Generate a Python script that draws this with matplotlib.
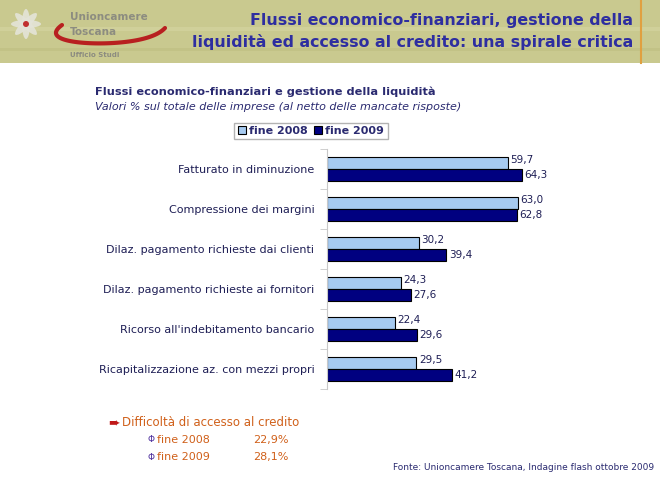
import matplotlib
matplotlib.use("Agg")
import matplotlib.pyplot as plt
from matplotlib.patches import Rectangle, Ellipse
import numpy as np

# data
categories = ["Fatturato in diminuzione",
              "Compressione dei margini",
              "Dilaz. pagamento richieste dai clienti",
              "Dilaz. pagamento richieste ai fornitori",
              "Ricorso all'indebitamento bancario",
              "Ricapitalizzazione az. con mezzi propri"]
fine_2008 = [59.7, 63.0, 30.2, 24.3, 22.4, 29.5]
fine_2009 = [64.3, 62.8, 39.4, 27.6, 29.6, 41.2]
series_names = ["fine 2008", "fine 2009"]
credito_labels = ["fine 2008", "fine 2009"]
credito_values = ["22,9%", "28,1%"]

light = "#a6caf0"
dark = "#000080"
navy_txt = "#1e1e55"

W, H = 660, 480
fig = plt.figure(figsize=(W / 100, H / 100), dpi=100)
fig.patch.set_facecolor("white")

# overlay in pixel coordinates for header / decorations
bg = fig.add_axes([0, 0, 1, 1], zorder=0)
bg.set_xlim(0, W)
bg.set_ylim(H, 0)
bg.axis("off")

bg.add_patch(Rectangle((0, 0), W, 63, facecolor="#c9c98f", edgecolor="none"))
bg.add_patch(Rectangle((0, 27), W, 4, facecolor="#d0d09a", edgecolor="none"))
bg.add_patch(Rectangle((0, 48), W, 3, facecolor="#c2c286", edgecolor="none"))
bg.plot([641, 641], [0, 63], color="#e0a040", lw=1.5)

# logo
for ang in range(0, 180, 45):
    bg.add_patch(Ellipse((26, 24), 30, 8, angle=ang, facecolor="#e4e4d8",
                         edgecolor="none", alpha=0.9))
bg.add_patch(Ellipse((26, 24), 6, 6, facecolor="#c03030", edgecolor="none"))

def bezier(pts, n=80):
    pts = np.array(pts, dtype=float)
    t = np.linspace(0, 1, n)[:, None]
    while len(pts) > 1:
        pts = np.array([(1 - t) * pts[i] + t * pts[i + 1] for i in range(len(pts) - 1)])
    return pts[0]

curve = bezier([(62, 25), (44, 38), (60, 46), (110, 46), (150, 44), (165, 28)])
bg.plot(curve[:, 0], curve[:, 1], color="#b82020", lw=3, solid_capstyle="round")
bg.text(70, 17, "Unioncamere", fontsize=7.5, fontweight="bold", color="#8c8c80",
        va="center", ha="left")
bg.text(70, 32, "Toscana", fontsize=7.5, fontweight="bold", color="#8c8c80",
        va="center", ha="left")
bg.text(70, 55, "Ufficio Studi", fontsize=5, fontweight="bold", color="#8c8c80",
        va="center", ha="left")

# header title
bg.text(633, 20, "Flussi economico-finanziari, gestione della", fontsize=11.4,
        fontweight="bold", color="#2e2ea0", ha="right", va="center")
bg.text(633, 42, "liquidità ed accesso al credito: una spirale critica", fontsize=11.4,
        fontweight="bold", color="#2e2ea0", ha="right", va="center")

# chart titles
bg.text(95, 92, "Flussi economico-finanziari e gestione della liquidità", fontsize=8.2,
        fontweight="bold", color="#2a2a70", ha="left", va="center")
bg.text(95, 107, "Valori % sul totale delle imprese (al netto delle mancate risposte)",
        fontsize=8, style="italic", color="#2a2a70", ha="left", va="center")

# bar chart
ax = fig.add_axes([327 / W, 1 - 389 / H, 303 / W, (389 - 148.5) / H], zorder=1)
ax.patch.set_alpha(0)
y = np.arange(len(categories))
h = 0.3
ax.barh(y - h / 2, fine_2008, height=h, color=light, edgecolor="black", lw=0.8,
        label=series_names[0])
ax.barh(y + h / 2, fine_2009, height=h, color=dark, edgecolor="black", lw=0.8,
        label=series_names[1])
for i, (a, b) in enumerate(zip(fine_2008, fine_2009)):
    ax.text(a + 0.8, i - h / 2 - 0.07, f"{a:.1f}".replace(".", ","), fontsize=7.5,
            color=navy_txt, va="center", ha="left")
    ax.text(b + 0.8, i + h / 2, f"{b:.1f}".replace(".", ","), fontsize=7.5,
            color=navy_txt, va="center", ha="left")

ax.set_xlim(0, 100)
ax.set_ylim(len(categories) - 0.5, -0.5)
for s in ["top", "right", "bottom"]:
    ax.spines[s].set_visible(False)
ax.spines["left"].set_color("#c8c8c8")
ax.set_xticks([])
ax.set_yticks(y)
ax.set_yticklabels(categories, fontsize=8, color=navy_txt)
ax.tick_params(axis="y", which="major", length=0, pad=9)
ax.set_yticks(np.arange(-0.5, len(categories)), minor=True)
ax.tick_params(axis="y", which="minor", length=5, color="#c8c8c8")

leg = fig.legend(loc="center", bbox_to_anchor=(311 / W, 1 - 131 / H), ncol=2,
                 frameon=True, fancybox=False, edgecolor="#a0a0a0",
                 prop={"weight": "bold", "size": 8}, handlelength=0.7,
                 handleheight=0.7, handletextpad=0.3, columnspacing=0.6,
                 borderpad=0.3)
for txt in leg.get_texts():
    txt.set_color("#2a2a70")

# credit access notes
bg.text(108, 423, "➨", fontsize=10, color="#c01818", ha="left", va="center")
bg.text(122, 423, "Difficoltà di accesso al credito", fontsize=8.5, color="#d0601a",
        ha="left", va="center")
for k, (lab, val) in enumerate(zip(credito_labels, credito_values)):
    yy = 440 + 17 * k
    bg.text(147, yy, "Φ", fontsize=6.5, color="#4b2c9c", ha="left", va="center")
    bg.text(157, yy, lab, fontsize=8, color="#d0601a", ha="left", va="center")
    bg.text(253, yy, val, fontsize=8, color="#d0601a", ha="left", va="center")

bg.text(393, 467, "Fonte: Unioncamere Toscana, Indagine flash ottobre 2009", fontsize=6.5,
        color="#2a2a70", ha="left", va="center")

fig.savefig("out.png", dpi=100)
